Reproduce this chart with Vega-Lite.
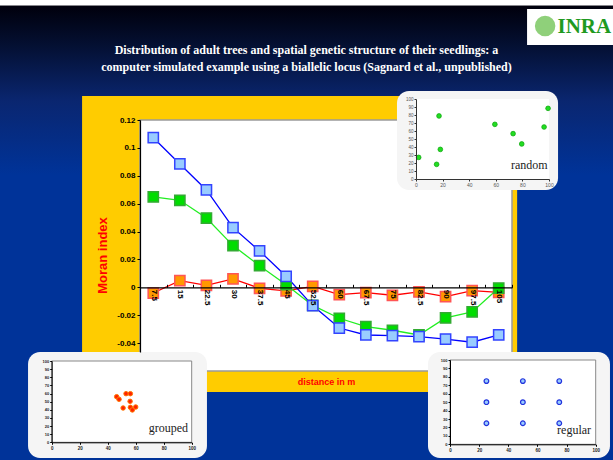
{
  "$schema": "https://vega.github.io/schema/vega-lite/v6.json",
  "width": 613,
  "height": 460,
  "autosize": {"type": "none"},
  "padding": 0,
  "background": "#003399",
  "title": {
    "text": ["Distribution of adult trees and spatial genetic structure of their seedlings: a", "computer simulated example using a biallelic locus (Sagnard et al., unpublished)"],
    "frame": "group",
    "anchor": "middle",
    "orient": "top",
    "offset": -83,
    "baseline": "alphabetic",
    "font": "Liberation Serif",
    "fontSize": 12,
    "fontWeight": "bold",
    "color": "#ffffff",
    "lineHeight": 17
  },
  "config": {"view": {"stroke": null}},
  "datasets": {
    "one": [{}],
    "moran": [
      {"d": 7.5, "series": "grouped", "moran": -0.0041},
      {"d": 15, "series": "grouped", "moran": 0.0048},
      {"d": 22.5, "series": "grouped", "moran": 0.0014},
      {"d": 30, "series": "grouped", "moran": 0.006},
      {"d": 37.5, "series": "grouped", "moran": -0.0007},
      {"d": 45, "series": "grouped", "moran": -0.0026},
      {"d": 52.5, "series": "grouped", "moran": 0.0007},
      {"d": 60, "series": "grouped", "moran": -0.0053},
      {"d": 67.5, "series": "grouped", "moran": -0.0038},
      {"d": 75, "series": "grouped", "moran": -0.0057},
      {"d": 82.5, "series": "grouped", "moran": -0.0033},
      {"d": 90, "series": "grouped", "moran": -0.0067},
      {"d": 97.5, "series": "grouped", "moran": -0.0024},
      {"d": 105, "series": "grouped", "moran": -0.0036},
      {"d": 7.5, "series": "random", "moran": 0.0648},
      {"d": 15, "series": "random", "moran": 0.0624},
      {"d": 22.5, "series": "random", "moran": 0.0497},
      {"d": 30, "series": "random", "moran": 0.0299},
      {"d": 37.5, "series": "random", "moran": 0.0155},
      {"d": 45, "series": "random", "moran": 0.0019},
      {"d": 52.5, "series": "random", "moran": -0.013},
      {"d": 60, "series": "random", "moran": -0.0222},
      {"d": 67.5, "series": "random", "moran": -0.0282},
      {"d": 75, "series": "random", "moran": -0.0308},
      {"d": 82.5, "series": "random", "moran": -0.0342},
      {"d": 90, "series": "random", "moran": -0.022},
      {"d": 97.5, "series": "random", "moran": -0.0177},
      {"d": 105, "series": "random", "moran": -0.0005},
      {"d": 7.5, "series": "regular", "moran": 0.1073},
      {"d": 15, "series": "regular", "moran": 0.0885},
      {"d": 22.5, "series": "regular", "moran": 0.0698},
      {"d": 30, "series": "regular", "moran": 0.0428},
      {"d": 37.5, "series": "regular", "moran": 0.0261},
      {"d": 45, "series": "regular", "moran": 0.0079},
      {"d": 52.5, "series": "regular", "moran": -0.0131},
      {"d": 60, "series": "regular", "moran": -0.0292},
      {"d": 67.5, "series": "regular", "moran": -0.0342},
      {"d": 75, "series": "regular", "moran": -0.0347},
      {"d": 82.5, "series": "regular", "moran": -0.0354},
      {"d": 90, "series": "regular", "moran": -0.0371},
      {"d": 97.5, "series": "regular", "moran": -0.0394},
      {"d": 105, "series": "regular", "moran": -0.0342}
    ],
    "random": [
      {"x": 2, "y": 27}, {"x": 15.5, "y": 18.3}, {"x": 17.3, "y": 78.8}, {"x": 18.3, "y": 37},
      {"x": 59.3, "y": 68.3}, {"x": 73, "y": 56.7}, {"x": 79.5, "y": 43.8}, {"x": 96.3, "y": 65}, {"x": 99.3, "y": 88.3}
    ],
    "grouped": [
      {"x": 46.4, "y": 56.1}, {"x": 48.1, "y": 52.9}, {"x": 53.1, "y": 59.8}, {"x": 56.2, "y": 59.8},
      {"x": 56, "y": 50.4}, {"x": 51, "y": 42.2}, {"x": 56.2, "y": 43}, {"x": 57.6, "y": 39.8}, {"x": 60, "y": 43.4}
    ],
    "regular": [
      {"x": 25, "y": 25}, {"x": 50, "y": 25}, {"x": 75, "y": 25},
      {"x": 25, "y": 50}, {"x": 50, "y": 50}, {"x": 75, "y": 50},
      {"x": 25, "y": 75}, {"x": 50, "y": 75}, {"x": 75, "y": 75}
    ]
  },
  "resolve": {"scale": {"x": "independent", "y": "independent"}},
  "layer": [
    {
      "data": {"name": "one"},
      "mark": {
        "type": "rect",
        "fill": {
          "gradient": "linear", "x1": 0, "y1": 0, "x2": 0, "y2": 1,
          "stops": [
            {"offset": 0, "color": "#ffffff"},
            {"offset": 0.011, "color": "#ffffff"},
            {"offset": 0.013, "color": "#00000c"},
            {"offset": 0.1, "color": "#041033"},
            {"offset": 0.22, "color": "#0a2670"},
            {"offset": 0.38, "color": "#003399"},
            {"offset": 1, "color": "#003399"}
          ]
        }
      },
      "encoding": {}
    },
    {
      "layer": [
        {
          "data": {"name": "one"},
          "mark": {"type": "rect", "fill": "#ffcc00"},
          "encoding": {
            "x": {"datum": -12.6, "type": "quantitative",
              "scale": {"domain": [3.75, 108.75], "range": [140, 512], "nice": false, "zero": false},
              "axis": {"orient": "bottom", "offset": -172.7, "values": [7.5, 15, 22.5, 30, 37.5, 45, 52.5, 60, 67.5, 75, 82.5, 90, 97.5, 105],
                "format": "~g", "labelAngle": 90, "labelAlign": "left", "labelBaseline": "middle",
                "labelFont": "Liberation Sans", "labelFontSize": 8, "labelFontWeight": "bold", "labelColor": "#000000",
                "labelPadding": 5, "labelOverlap": false, "labelFlush": false,
                "tickSize": -3, "tickOffset": 13.3, "labelOffset": -13.3, "tickColor": "#000000",
                "domainColor": "#000000", "domainWidth": 1.2, "grid": false, "zindex": 1,
                "title": "distance in m", "titleFont": "Liberation Sans", "titleFontSize": 9, "titleFontWeight": "bold",
                "titleColor": "#ff0000", "titleY": 94, "titleBaseline": "middle"}},
            "x2": {"datum": 110.2},
            "y": {"datum": 0.1372, "type": "quantitative",
              "scale": {"domain": [-0.0464, 0.12], "range": [352, 120], "nice": false, "zero": false},
              "axis": {"orient": "left", "offset": -140, "values": [-0.04, -0.02, 0, 0.02, 0.04, 0.06, 0.08, 0.1, 0.12],
                "labelExpr": "'' + datum.value",
                "labelFont": "Liberation Sans", "labelFontSize": 8, "labelFontWeight": "bold", "labelColor": "#000000",
                "labelPadding": 2, "tickSize": 3, "tickColor": "#000000", "domainColor": "#000000", "domainWidth": 1.2,
                "grid": false, "zindex": 1,
                "title": "Moran index", "titleFont": "Liberation Sans", "titleFontSize": 13, "titleFontWeight": "bold",
                "titleColor": "#ff0000", "titleX": -38, "titleY": 255, "titleAngle": -90, "titleAlign": "center", "titleBaseline": "middle"}},
            "y2": {"datum": -0.0751}
          }
        },
        {
          "data": {"name": "one"},
          "mark": {"type": "rect", "fill": "#ffffff", "stroke": "#9a9a9a", "strokeWidth": 1.5},
          "encoding": {
            "x": {"datum": 3.75, "type": "quantitative"},
            "x2": {"datum": 108.75},
            "y": {"datum": -0.06, "type": "quantitative"},
            "y2": {"datum": 0.12}
          }
        },
        {
          "data": {"name": "moran"},
          "mark": {"type": "line", "strokeWidth": 1.3},
          "encoding": {
            "x": {"field": "d", "type": "quantitative"},
            "y": {"field": "moran", "type": "quantitative"},
            "color": {"field": "series", "type": "nominal",
              "scale": {"domain": ["grouped", "random", "regular"], "range": ["#ff0000", "#22ee22", "#0000ff"]}, "legend": null}
          }
        },
        {
          "data": {"name": "moran"},
          "mark": {"type": "square", "size": 105, "filled": true, "strokeWidth": 1.5, "opacity": 1},
          "encoding": {
            "x": {"field": "d", "type": "quantitative"},
            "y": {"field": "moran", "type": "quantitative"},
            "fill": {"field": "series", "type": "nominal",
              "scale": {"domain": ["grouped", "random", "regular"], "range": ["#ff9900", "#00dd00", "#99ccff"]}, "legend": null},
            "stroke": {"field": "series", "type": "nominal",
              "scale": {"domain": ["grouped", "random", "regular"], "range": ["#ff5555", "#33aa33", "#3344ff"]}, "legend": null}
          }
        },
        {
          "data": {"name": "one"},
          "mark": {"type": "rect", "fill": "#ffffff"},
          "encoding": {
            "x": {"datum": 113.0, "type": "quantitative"},
            "x2": {"datum": 140},
            "y": {"datum": 0.1996, "type": "quantitative"},
            "y2": {"datum": 0.1738}
          }
        },
        {
          "data": {"name": "one"},
          "mark": {"type": "circle", "size": 420, "fill": "#8fd07a", "opacity": 1},
          "encoding": {
            "x": {"datum": 118.1, "type": "quantitative"},
            "y": {"datum": 0.1874, "type": "quantitative"}
          }
        },
        {
          "data": {"name": "one"},
          "mark": {"type": "text", "text": "INRA", "font": "Liberation Serif", "fontSize": 21, "fontWeight": "bold", "fill": "#1f9a1f", "align": "left", "baseline": "middle"},
          "encoding": {
            "x": {"datum": 121.6, "type": "quantitative"},
            "y": {"datum": 0.1867, "type": "quantitative"}
          }
        }
      ]
    },
    {
      "layer": [
        {
          "data": {"name": "one"},
          "mark": {"type": "rect", "fill": "#f5f5f5", "cornerRadius": 12},
          "encoding": {
            "x": {"datum": -14.3, "type": "quantitative",
              "scale": {"domain": [0, 100], "range": [416, 549], "nice": false, "zero": false},
              "axis": {"orient": "bottom", "offset": -281, "values": [0, 20, 40, 60, 80, 100], "labelFont": "Liberation Sans",
                "labelFontSize": 5, "labelColor": "#555555", "labelPadding": 1, "tickSize": 2, "tickColor": "#333333",
                "domainColor": "#333333", "grid": false, "zindex": 1, "title": null, "labelFlush": false, "labelOverlap": false}},
            "x2": {"datum": 106.8},
            "y": {"datum": -13.75, "type": "quantitative",
              "scale": {"domain": [0, 100], "range": [179, 99], "nice": false, "zero": false},
              "axis": {"orient": "left", "offset": -416, "values": [0, 10, 20, 30, 40, 50, 60, 70, 80, 90, 100], "labelFont": "Liberation Sans",
                "labelFontSize": 4.5, "labelColor": "#555555", "labelPadding": 1, "tickSize": 2, "tickColor": "#333333",
                "domainColor": "#333333", "grid": false, "zindex": 1, "title": null, "labelFlush": false, "labelOverlap": false}},
            "y2": {"datum": 110}
          }
        },
        {
          "data": {"name": "one"},
          "mark": {"type": "rect", "fill": "#ffffff"},
          "encoding": {
            "x": {"datum": 0, "type": "quantitative", "scale": {"domain": [0, 100], "range": [416, 549], "nice": false, "zero": false}},
            "x2": {"datum": 100},
            "y": {"datum": 0, "type": "quantitative", "scale": {"domain": [0, 100], "range": [179, 99], "nice": false, "zero": false}},
            "y2": {"datum": 100}
          }
        },
        {
          "data": {"name": "random"},
          "mark": {"type": "circle", "size": 22, "fill": "#22dd22", "stroke": "#11aa11", "strokeWidth": 0.8, "opacity": 1},
          "encoding": {
            "x": {"field": "x", "type": "quantitative", "scale": {"domain": [0, 100], "range": [416, 549], "nice": false, "zero": false}},
            "y": {"field": "y", "type": "quantitative", "scale": {"domain": [0, 100], "range": [179, 99], "nice": false, "zero": false}}
          }
        },
        {
          "data": {"name": "one"},
          "mark": {"type": "text", "text": "random", "font": "Liberation Serif", "fontSize": 12, "fill": "#222222", "align": "right", "baseline": "alphabetic"},
          "encoding": {
            "x": {"datum": 99, "type": "quantitative", "scale": {"domain": [0, 100], "range": [416, 549], "nice": false, "zero": false}},
            "y": {"datum": 12.5, "type": "quantitative", "scale": {"domain": [0, 100], "range": [179, 99], "nice": false, "zero": false}}
          }
        }
      ]
    },
    {
      "layer": [
        {
          "data": {"name": "one"},
          "mark": {"type": "rect", "fill": "#f5f5f5", "cornerRadius": 12},
          "encoding": {
            "x": {"datum": -16.9, "type": "quantitative",
              "scale": {"domain": [0, 100], "range": [51.7, 191.7], "nice": false, "zero": false},
              "axis": {"orient": "bottom", "offset": -17.7, "values": [0, 20, 40, 60, 80, 100], "labelFont": "Liberation Sans",
                "labelFontSize": 4.5, "labelFontWeight": "bold", "labelColor": "#222222", "labelPadding": 1, "tickSize": 2, "tickColor": "#000000",
                "domainColor": "#000000", "grid": false, "zindex": 1, "title": null, "labelFlush": false, "labelOverlap": false}},
            "x2": {"datum": 110.9},
            "y": {"datum": -19.3, "type": "quantitative",
              "scale": {"domain": [0, 100], "range": [442.3, 361], "nice": false, "zero": false},
              "axis": {"orient": "left", "offset": -51.7, "values": [0, 10, 20, 30, 40, 50, 60, 70, 80, 90, 100], "labelFont": "Liberation Sans",
                "labelFontSize": 4, "labelFontWeight": "bold", "labelColor": "#222222", "labelPadding": 1, "tickSize": 2, "tickColor": "#000000",
                "domainColor": "#000000", "grid": false, "zindex": 1, "title": null, "labelFlush": false, "labelOverlap": false}},
            "y2": {"datum": 111}
          }
        },
        {
          "data": {"name": "one"},
          "mark": {"type": "rect", "fill": "#ffffff", "stroke": "#888888", "strokeWidth": 1},
          "encoding": {
            "x": {"datum": 0, "type": "quantitative", "scale": {"domain": [0, 100], "range": [51.7, 191.7], "nice": false, "zero": false}},
            "x2": {"datum": 100},
            "y": {"datum": 0, "type": "quantitative", "scale": {"domain": [0, 100], "range": [442.3, 361], "nice": false, "zero": false}},
            "y2": {"datum": 100}
          }
        },
        {
          "data": {"name": "grouped"},
          "mark": {"type": "circle", "size": 20, "fill": "#ff2200", "stroke": "#ff7700", "strokeWidth": 1, "opacity": 1},
          "encoding": {
            "x": {"field": "x", "type": "quantitative", "scale": {"domain": [0, 100], "range": [51.7, 191.7], "nice": false, "zero": false}},
            "y": {"field": "y", "type": "quantitative", "scale": {"domain": [0, 100], "range": [442.3, 361], "nice": false, "zero": false}}
          }
        },
        {
          "data": {"name": "one"},
          "mark": {"type": "text", "text": "grouped", "font": "Liberation Serif", "fontSize": 12, "fill": "#222222", "align": "right", "baseline": "alphabetic"},
          "encoding": {
            "x": {"datum": 97.4, "type": "quantitative", "scale": {"domain": [0, 100], "range": [51.7, 191.7], "nice": false, "zero": false}},
            "y": {"datum": 12.7, "type": "quantitative", "scale": {"domain": [0, 100], "range": [442.3, 361], "nice": false, "zero": false}}
          }
        }
      ]
    },
    {
      "layer": [
        {
          "data": {"name": "one"},
          "mark": {"type": "rect", "fill": "#f5f5f5", "cornerRadius": 12},
          "encoding": {
            "x": {"datum": -15.1, "type": "quantitative",
              "scale": {"domain": [0, 100], "range": [450, 595.7], "nice": false, "zero": false},
              "axis": {"orient": "bottom", "offset": -15.7, "values": [0, 20, 40, 60, 80, 100], "labelFont": "Liberation Sans",
                "labelFontSize": 4.5, "labelFontWeight": "bold", "labelColor": "#222222", "labelPadding": 1, "tickSize": 2, "tickColor": "#000000",
                "domainColor": "#000000", "grid": false, "zindex": 1, "title": null, "labelFlush": false, "labelOverlap": false}},
            "x2": {"datum": 109.8},
            "y": {"datum": -16.3, "type": "quantitative",
              "scale": {"domain": [0, 100], "range": [444.3, 360], "nice": false, "zero": false},
              "axis": {"orient": "left", "offset": -450, "values": [0, 10, 20, 30, 40, 50, 60, 70, 80, 90, 100], "labelFont": "Liberation Sans",
                "labelFontSize": 4, "labelFontWeight": "bold", "labelColor": "#222222", "labelPadding": 1, "tickSize": 2, "tickColor": "#000000",
                "domainColor": "#000000", "grid": false, "zindex": 1, "title": null, "labelFlush": false, "labelOverlap": false}},
            "y2": {"datum": 109.6}
          }
        },
        {
          "data": {"name": "one"},
          "mark": {"type": "rect", "fill": "#ffffff", "stroke": "#888888", "strokeWidth": 1},
          "encoding": {
            "x": {"datum": 0, "type": "quantitative", "scale": {"domain": [0, 100], "range": [450, 595.7], "nice": false, "zero": false}},
            "x2": {"datum": 100},
            "y": {"datum": 0, "type": "quantitative", "scale": {"domain": [0, 100], "range": [444.3, 360], "nice": false, "zero": false}},
            "y2": {"datum": 100}
          }
        },
        {
          "data": {"name": "regular"},
          "mark": {"type": "circle", "size": 22, "fill": "#99ccff", "stroke": "#2233dd", "strokeWidth": 1.2, "opacity": 1},
          "encoding": {
            "x": {"field": "x", "type": "quantitative", "scale": {"domain": [0, 100], "range": [450, 595.7], "nice": false, "zero": false}},
            "y": {"field": "y", "type": "quantitative", "scale": {"domain": [0, 100], "range": [444.3, 360], "nice": false, "zero": false}}
          }
        },
        {
          "data": {"name": "one"},
          "mark": {"type": "text", "text": "regular", "font": "Liberation Serif", "fontSize": 12, "fill": "#222222", "align": "right", "baseline": "alphabetic"},
          "encoding": {
            "x": {"datum": 96.8, "type": "quantitative", "scale": {"domain": [0, 100], "range": [450, 595.7], "nice": false, "zero": false}},
            "y": {"datum": 12.2, "type": "quantitative", "scale": {"domain": [0, 100], "range": [444.3, 360], "nice": false, "zero": false}}
          }
        }
      ]
    }
  ]
}
